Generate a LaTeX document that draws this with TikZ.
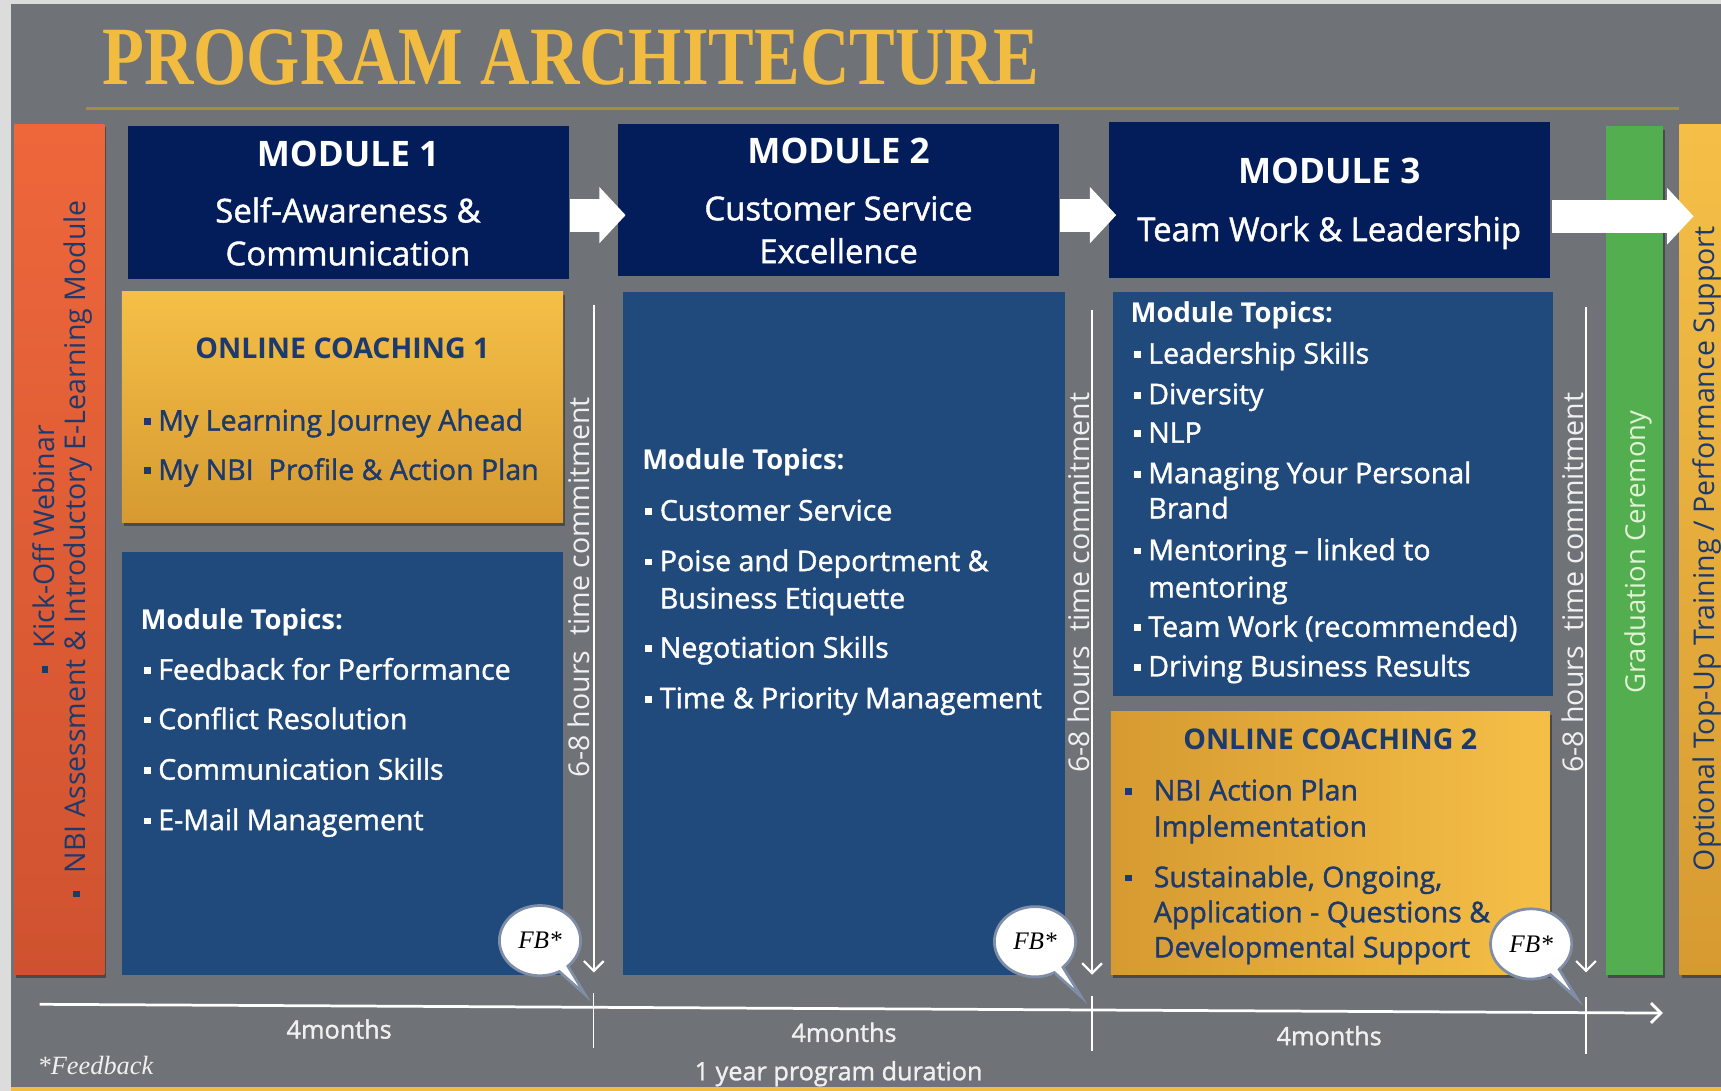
\documentclass[tikz,border=0pt]{standalone}
\usepackage{fontspec}
\setmainfont{Open Sans}
\newfontfamily\semib{Open Sans}[FakeBold=1.3]
\newfontfamily\serifit{Liberation Serif}
\usetikzlibrary{arrows.meta,shadows,calc,shapes.callouts}
\definecolor{outer}{HTML}{DCDCDC}
\definecolor{panel}{HTML}{6F7276}
\definecolor{titlegold}{HTML}{F2BC40}
\definecolor{goldline}{HTML}{A68B45}
\definecolor{navyhdr}{HTML}{031D5B}
\definecolor{topicblue}{HTML}{204A7C}
\definecolor{goldtop}{HTML}{F5BF47}
\definecolor{goldbot}{HTML}{D69A31}
\definecolor{orangetop}{HTML}{EE673B}
\definecolor{orangebot}{HTML}{CF5230}
\definecolor{gradgreen}{HTML}{52AE4F}
\definecolor{darktext}{HTML}{1C3A6E}
\definecolor{bubbleline}{HTML}{7F8EA6}
\definecolor{paletext}{HTML}{F0F0F0}
\definecolor{gradtext}{HTML}{E2F2D4}
\newcommand\sqb{\rule[0.2em]{0.24em}{0.24em}}
\begin{document}
\begin{tikzpicture}[x=1pt,y=-1pt,
  box/.style={draw=none, inner sep=0, outer sep=0},
  shad/.style={drop shadow={shadow xshift=2pt, shadow yshift=-3pt, opacity=0.35, fill=black}},
  hdrbig/.style={inner sep=0, text height=22.8pt, text depth=0pt, text=white, font=\fontsize{32}{38}\selectfont\bfseries},
  hdrsub/.style={inner sep=0, text height=21.4pt, text depth=0pt, text=white, font=\semib\fontsize{30}{36}\selectfont},
  item/.style={inner sep=0, text height=18.6pt, text depth=0pt, anchor=west, font=\semib\fontsize{26}{31}\selectfont},
  topichead/.style={inner sep=0, text height=17.8pt, text depth=0pt, anchor=west, font=\fontsize{25}{30}\selectfont\bfseries},
  coachhead/.style={inner sep=0, text height=18.6pt, text depth=0pt, text=darktext, font=\fontsize{26}{31}\selectfont\bfseries},
  vtext/.style={inner sep=0, text height=18.6pt, text depth=0pt, rotate=90, font=\fontsize{26}{31}\selectfont},
  blockarrow/.style={white, line width=30pt, -{Triangle[length=24pt,width=50pt]}},
  timearrow/.style={white, line width=2pt, -{Straight Barb[length=9pt,width=18pt]}},
  tick/.style={white, line width=1.2pt},
  bubble/.style={ellipse callout, draw=bubbleline, line width=2.5pt, fill=white, minimum width=74pt, minimum height=64pt, inner sep=0, font=\serifit\itshape\fontsize{23}{27}\selectfont},
  monthlabel/.style={inner sep=0, text height=16.4pt, text depth=0pt, text=paletext, font=\semib\fontsize{23}{28}\selectfont}
]
\useasboundingbox (0,0) rectangle (1568,994);
\clip (0,0) rectangle (1568,994);
% background
\fill[outer] (0,0) rectangle (1568,994);
\fill[panel] (10,4) rectangle (1575,990);
\fill[titlegold] (10,990) rectangle (1575,998);
% title
\node[anchor=south west, inner sep=0, text=titlegold] (title) at (93,78)
  {\resizebox{854pt}{50pt}{\serifit\bfseries PROGRAM ARCHITECTURE}};
\draw[goldline, line width=3pt] (78,99) -- (1530,99);

% side bars
\node[box, shad, top color=orangetop, bottom color=orangebot, minimum width=82pt, minimum height=775pt] (kick) at (54,500.5) {};
\node[box, shad, fill=gradgreen, minimum width=52pt, minimum height=773pt] (grad) at (1489,501.5) {};
\node[box, shad, top color=goldtop, bottom color=goldbot, minimum width=60pt, minimum height=775pt] (opt) at (1560,500.5) {};

% module headers
\node[box, fill=navyhdr, minimum width=401pt, minimum height=139pt] (m1hdr) at (317.5,184.5) {};
\node[box, fill=navyhdr, minimum width=402pt, minimum height=138pt] (m2hdr) at (764,182) {};
\node[box, fill=navyhdr, minimum width=402pt, minimum height=142pt] (m3hdr) at (1211,182) {};

% content boxes
\node[box, shad, top color=goldtop, bottom color=goldbot, minimum width=402pt, minimum height=210pt] (oc1) at (312,371) {};
\node[box, fill=topicblue, minimum width=402pt, minimum height=385pt] (t1) at (312,695.5) {};
\node[box, fill=topicblue, minimum width=402pt, minimum height=622pt] (t2) at (769,577) {};
\node[box, fill=topicblue, minimum width=401pt, minimum height=368pt] (t3) at (1214.5,450) {};
\node[box, shad, left color=goldbot, right color=goldtop, minimum width=400pt, minimum height=240pt] (oc2) at (1212,768) {};

% block arrows between modules
\draw[blockarrow] ($(m1hdr.east)+(1,11.5)$) -- ($(m2hdr.west)+(7,14)$);
\draw[blockarrow] ($(m2hdr.east)+(1,14)$) -- ($(m3hdr.west)+(7,14)$);
\draw[blockarrow] ($(m3hdr.east)+(2,15)$) -- ($(opt.west)+(13,-303.5)$);

% header texts
\node[hdrbig] (m1a) at (317,140) {MODULE 1};
\node[hdrsub] (m1b) at (317,192) {Self-Awareness \&};
\node[hdrsub] (m1c) at (317,231) {Communication};
\node[hdrbig] (m2a) at (764,138) {MODULE 2};
\node[hdrsub] (m2b) at (764,190) {Customer Service};
\node[hdrsub] (m2c) at (764,229) {Excellence};
\node[hdrbig] (m3a) at (1211,156) {MODULE 3};
\node[hdrsub] (m3b) at (1211,209) {Team Work \& Leadership};

% online coaching 1
\node[coachhead] (oc1h) at (312,317) {ONLINE COACHING 1};
\node[item, text=darktext] (oc1i1) at (144,383) {\llap{\sqb\hspace{7pt}}My Learning Journey Ahead};
\node[item, text=darktext] (oc1i2) at (144,428) {\llap{\sqb\hspace{7pt}}My NBI\ \ Profile \& Action Plan};

% module 1 topics
\node[topichead, text=white] (t1h) at (128,565) {Module Topics:};
\node[item, text=white] (t1i1) at (144,610) {\llap{\sqb\hspace{7pt}}Feedback for Performance};
\node[item, text=white] (t1i2) at (144,655) {\llap{\sqb\hspace{7pt}}Conflict Resolution};
\node[item, text=white] (t1i3) at (144,701) {\llap{\sqb\hspace{7pt}}Communication Skills};
\node[item, text=white] (t1i4) at (144,747) {\llap{\sqb\hspace{7pt}}E-Mail Management};

% module 2 topics
\node[topichead, text=white] (t2h) at (585,419) {Module Topics:};
\node[item, text=white] (t2i1) at (601,465) {\llap{\sqb\hspace{7pt}}Customer Service};
\node[item, text=white] (t2i2) at (601,511) {\llap{\sqb\hspace{7pt}}Poise and Deportment \&};
\node[item, text=white] (t2i2b) at (601,545) {Business Etiquette};
\node[item, text=white] (t2i3) at (601,590) {\llap{\sqb\hspace{7pt}}Negotiation Skills};
\node[item, text=white] (t2i4) at (601,636) {\llap{\sqb\hspace{7pt}}Time \& Priority Management};

% module 3 topics
\node[topichead, text=white] (t3h) at (1030,285) {Module Topics:};
\node[item, text=white] (t3i1) at (1046,322) {\llap{\sqb\hspace{7pt}}Leadership Skills};
\node[item, text=white] (t3i2) at (1046,359) {\llap{\sqb\hspace{7pt}}Diversity};
\node[item, text=white] (t3i3) at (1046,394) {\llap{\sqb\hspace{7pt}}NLP};
\node[item, text=white] (t3i4) at (1046,431) {\llap{\sqb\hspace{7pt}}Managing Your Personal};
\node[item, text=white] (t3i4b) at (1046,463) {Brand};
\node[item, text=white] (t3i5) at (1046,501) {\llap{\sqb\hspace{7pt}}Mentoring – linked to};
\node[item, text=white] (t3i5b) at (1046,535) {mentoring};
\node[item, text=white] (t3i6) at (1046,571) {\llap{\sqb\hspace{7pt}}Team Work (recommended)};
\node[item, text=white] (t3i7) at (1046,607) {\llap{\sqb\hspace{7pt}}Driving Business Results};

% online coaching 2
\node[coachhead] (oc2h) at (1212,674) {ONLINE COACHING 2};
\node[item, text=darktext] (oc2i1) at (1051,720) {\llap{\sqb\hspace{20pt}}NBI Action Plan};
\node[item, text=darktext] (oc2i1b) at (1051,753) {Implementation};
\node[item, text=darktext] (oc2i2) at (1051,799) {\llap{\sqb\hspace{20pt}}Sustainable, Ongoing,};
\node[item, text=darktext] (oc2i2b) at (1051,831) {Application - Questions \&};
\node[item, text=darktext] (oc2i2c) at (1051,863) {Developmental Support};

% side bar texts
\node[vtext, text=darktext] (kick1) at (40,500) {\sqb\hspace{16pt}Kick-Off Webinar};
\node[vtext, text=darktext] (kick2) at (69,500) {\sqb\hspace{16pt}NBI Assessment \& Introductory E-Learning Module};
\node[vtext, text=gradtext, font=\fontsize{25}{30}\selectfont] (gradt) at (1490,503) {Graduation Ceremony};
\node[vtext, text=darktext] (optt) at (1553,500) {Optional Top-Up Training / Performance Support};

% time commitment arrows
\coordinate (v1top) at (541,278); \coordinate (v1bot) at (541,886);
\coordinate (v2top) at (995,282); \coordinate (v2bot) at (995,888);
\coordinate (v3top) at (1445,280); \coordinate (v3bot) at (1445,886);
\draw[timearrow] (v1top) -- (v1bot);
\draw[timearrow] (v2top) -- (v2bot);
\draw[timearrow] (v3top) -- (v3bot);
\node[vtext, text=paletext] (tc1) at (528,535) {6-8 hours\ \ time commitment};
\node[vtext, text=paletext] (tc2) at (983,531) {6-8 hours\ \ time commitment};
\node[vtext, text=paletext] (tc3) at (1433,531) {6-8 hours\ \ time commitment};

% timeline
\coordinate (tls) at (36,915); \coordinate (tle) at (1515,923);
\draw[white, line width=2.5pt, -{Straight Barb[length=9pt,width=18pt]}] (tls) -- (tle);
\coordinate (k1a) at (541,905); \coordinate (k1b) at (541,955);
\coordinate (k2a) at (995,907); \coordinate (k2b) at (995,958);
\coordinate (k3a) at (1445,908); \coordinate (k3b) at (1445,960);
\draw[tick] (k1a) -- (k1b);
\draw[tick] (k2a) -- (k2b);
\draw[tick] (k3a) -- (k3b);

% feedback bubbles
\coordinate (fbt1) at (533,906);
\coordinate (fbt2) at (985,908);
\coordinate (fbt3) at (1437,910);
\node[bubble, callout absolute pointer={(fbt1)}] (fb1) at (492,857) {FB*};
\node[bubble, callout absolute pointer={(fbt2)}] (fb2) at (943,858) {FB*};
\node[bubble, callout absolute pointer={(fbt3)}] (fb3) at (1395,860) {FB*};

% bottom labels
\node[monthlabel] (mo1) at (309,938) {4months};
\node[monthlabel] (mo2) at (769,941) {4months};
\node[monthlabel] (mo3) at (1211,944) {4months};
\node[monthlabel] (dur) at (764,976) {1 year program duration};
\node[inner sep=0, text=paletext, font=\serifit\itshape\fontsize{24}{28}\selectfont] (fbnote) at (87,971) {*Feedback};
\end{tikzpicture}
\end{document}
